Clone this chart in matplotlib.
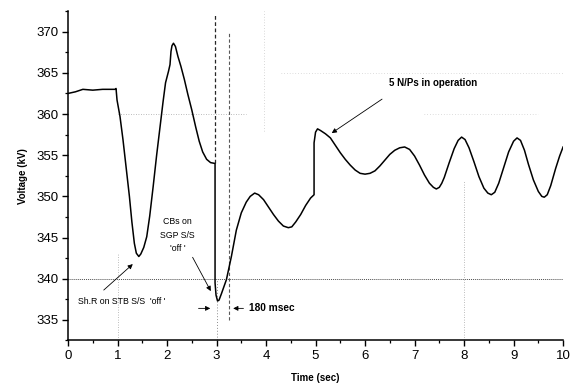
import matplotlib
matplotlib.use("Agg")
import matplotlib.pyplot as plt
from matplotlib.ticker import MultipleLocator

plt.rcParams['font.family'] = ['Liberation Sans', 'DejaVu Sans']

# Voltage trace (time in sec, voltage in kV)
time_s = [0.00, 0.15, 0.30, 0.50, 0.70, 0.95, 0.97, 0.99, 1.05, 1.11, 1.18, 1.24, 1.29,
          1.34, 1.38, 1.43, 1.47, 1.53, 1.59, 1.65, 1.72, 1.79, 1.86, 1.92, 1.97, 2.03,
          2.06, 2.08, 2.10, 2.13, 2.17, 2.22, 2.28, 2.35, 2.42, 2.50, 2.58, 2.65, 2.72,
          2.80, 2.88, 2.96, 2.97, 2.97, 2.99, 3.02, 3.05, 3.10, 3.20, 3.30, 3.40, 3.50,
          3.60, 3.68, 3.77, 3.85, 3.95, 4.05, 4.15, 4.25, 4.35, 4.45, 4.52, 4.60, 4.70,
          4.80, 4.90, 4.97, 4.97, 5.00, 5.04, 5.10, 5.20, 5.30, 5.40, 5.50, 5.60, 5.70,
          5.80, 5.90, 6.00, 6.10, 6.20, 6.30, 6.40, 6.50, 6.60, 6.70, 6.80, 6.90, 7.00,
          7.10, 7.20, 7.30, 7.38, 7.44, 7.50, 7.55, 7.60, 7.70, 7.80, 7.88, 7.95, 8.02,
          8.10, 8.20, 8.30, 8.40, 8.48, 8.55, 8.62, 8.70, 8.80, 8.90, 9.00, 9.07, 9.14,
          9.22, 9.30, 9.40, 9.50, 9.57, 9.62, 9.68, 9.75, 9.85, 9.93, 10.00]
voltage_kv = [362.5, 362.7, 363.0, 362.9, 363.0, 363.0, 363.1, 361.7, 359.7, 356.9, 353.2, 350.0, 346.9,
              344.3, 343.1, 342.7, 343.0, 343.8, 345.1, 347.6, 351.2, 355.0, 358.5, 361.5, 363.8, 365.2,
              366.0, 367.6, 368.3, 368.6, 368.2, 367.0, 365.8, 364.2, 362.4, 360.5, 358.4, 356.7, 355.4,
              354.5, 354.1, 354.0, 354.0, 339.5, 338.0, 337.3, 337.4, 338.2, 339.9, 342.7, 345.9, 348.0,
              349.3, 350.0, 350.4, 350.2, 349.6, 348.7, 347.8, 347.0, 346.4, 346.2, 346.3, 346.9, 347.8,
              348.9, 349.8, 350.2, 356.5, 357.8, 358.2, 358.0, 357.6, 357.1, 356.2, 355.3, 354.5, 353.8,
              353.2, 352.8, 352.7, 352.8, 353.1, 353.7, 354.4, 355.1, 355.6, 355.9, 356.0, 355.7, 354.9,
              353.8, 352.6, 351.6, 351.1, 350.9, 351.1, 351.6, 352.3, 354.1, 355.8, 356.8, 357.2, 356.9,
              355.9, 354.2, 352.4, 351.0, 350.4, 350.2, 350.5, 351.6, 353.5, 355.4, 356.7, 357.1, 356.8,
              355.6, 353.9, 352.0, 350.6, 350.0, 349.9, 350.2, 351.3, 353.4, 354.9, 356.0]

x_ticks = [0, 1, 2, 3, 4, 5, 6, 7, 8, 9, 10]
y_ticks = [335, 340, 345, 350, 355, 360, 365, 370]

fig = plt.figure(figsize=(5.73, 3.83), dpi=100)
ax = fig.add_axes([0.1187, 0.111, 0.864, 0.860])

# faint scan grid remnants
ax.axhline(340, color='0.3', ls=(0, (1, 1)), lw=0.7, zorder=1)
ax.hlines(360, 1.0, 3.6, color='0.65', ls=(0, (1, 2)), lw=0.6, zorder=1)
ax.hlines(365, 4.3, 10.0, color='0.75', ls=(0, (1, 3)), lw=0.5, zorder=1)
ax.hlines(360, 7.2, 9.5, color='0.75', ls=(0, (1, 3)), lw=0.5, zorder=1)
ax.vlines(1.0, 332.5, 343, color='0.65', ls=(0, (1, 2)), lw=0.6, zorder=1)
ax.vlines(3.0, 332.5, 340, color='0.55', ls=(0, (1, 2)), lw=0.7, zorder=1)
ax.vlines(3.95, 358, 372.5, color='0.7', ls=(0, (1, 3)), lw=0.5, zorder=1)
ax.vlines(8.0, 332.5, 352, color='0.65', ls=(0, (1, 2)), lw=0.6, zorder=1)

# switching instants
ax.vlines(2.96, 354, 372.3, color='0.15', ls=(0, (3, 2)), lw=0.9, zorder=2)
ax.vlines(3.26, 335, 370, color='0.35', ls=(0, (3, 2)), lw=0.8, zorder=2)

ax.plot(time_s, voltage_kv, color='black', lw=1.1, zorder=3)

ax.set_xlim(0, 10)
ax.set_ylim(332.5, 372.5)
ax.set_xticks(x_ticks)
ax.set_yticks(y_ticks)
ax.xaxis.set_minor_locator(MultipleLocator(0.5))
ax.yaxis.set_minor_locator(MultipleLocator(2.5))
ax.tick_params(which='major', direction='out', length=4, width=1, labelsize=9.5, pad=3)
ax.tick_params(which='minor', direction='out', length=2.5, width=0.9)
for side in ['top', 'right']:
    ax.spines[side].set_visible(False)
for side in ['left', 'bottom']:
    ax.spines[side].set_linewidth(1.1)

ax.set_xlabel("Time (sec)", fontsize=7, fontweight='bold', labelpad=8)
ax.set_ylabel("Voltage (kV)", fontsize=7, fontweight='bold', labelpad=6)

arrow = dict(arrowstyle='-|>', color='black', lw=0.6, mutation_scale=7)
ax.text(6.49, 363.8, "5 N/Ps in operation", fontsize=7, fontweight='bold', va='center', ha='left')
ax.annotate("", xy=(5.28, 357.5), xytext=(6.39, 362.0), arrowprops=arrow)
ax.text(0.2, 337.2, "Sh.R on STB S/S  'off '", fontsize=6.3, va='center', ha='left')
ax.annotate("", xy=(1.35, 342.0), xytext=(0.68, 338.4), arrowprops=arrow)
ax.text(2.21, 345.3, "CBs on\nSGP S/S\n'off '", fontsize=6.3, ha='center', va='center',
        linespacing=1.7)
ax.annotate("", xy=(2.91, 338.2), xytext=(2.49, 342.9), arrowprops=arrow)
ax.annotate("", xy=(2.93, 336.4), xytext=(2.58, 336.4), arrowprops=arrow)
ax.annotate("", xy=(3.28, 336.4), xytext=(3.6, 336.4), arrowprops=arrow)
ax.text(3.66, 336.4, "180 msec", fontsize=7.3, fontweight='bold', ha='left', va='center')

fig.savefig("out.png", dpi=100)
